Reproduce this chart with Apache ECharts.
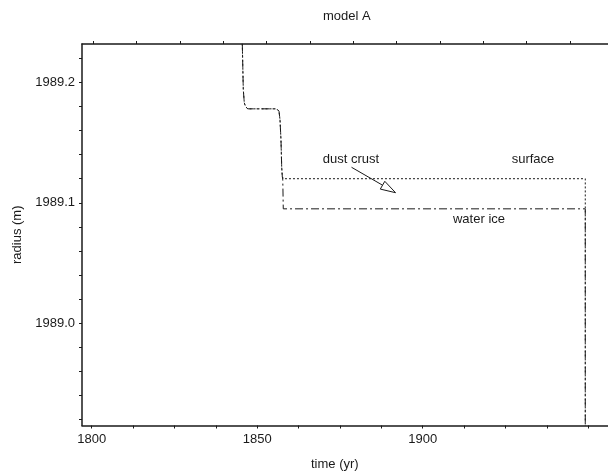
<!DOCTYPE html>
<html>
<head>
<meta charset="utf-8">
<script src="https://cdn.jsdelivr.net/npm/echarts@6/dist/echarts.min.js"></script>
<style>
  html, body { margin: 0; padding: 0; background: #fff; }
  #chart { width: 608px; height: 475px; }
</style>
</head>
<body>
<div id="chart"></div>
<script>
// Radius evolution of the two fronts (surface and water ice) over time
const timeCommon   = [1845.50, 1845.80, 1846.10, 1846.47, 1847.13, 1855.89, 1856.59, 1856.89, 1857.19, 1857.40, 1857.58];
const radiusCommon = [1989.232, 1989.194, 1989.183, 1989.180, 1989.178, 1989.178, 1989.176, 1989.169, 1989.152, 1989.130, 1989.122];

const surfaceTime   = [1857.88, 1949.12, 1949.12];
const surfaceRadius = [1989.120, 1989.120, 1988.900];

const waterIceTime   = [1857.73, 1857.88, 1949.12, 1949.12];
const waterIceRadius = [1989.119, 1989.095, 1989.095, 1988.900];

// Axis ticks and labels
const xTicksBottom = [1800, 1812.5, 1825, 1837.5, 1850, 1862.5, 1875, 1887.5, 1900, 1912.5, 1925, 1937.5, 1950, 1962.5];
const xLabels      = [1800, 1850, 1900];
const xTicksTop    = [1800.48, 1813.57, 1826.68, 1839.76, 1852.87, 1865.95, 1879.03, 1892.11, 1905.23, 1918.31, 1931.42, 1944.50, 1957.59];
const yTicks       = [1988.92, 1988.94, 1988.96, 1988.98, 1989.00, 1989.02, 1989.04, 1989.06, 1989.08, 1989.10,
                      1989.12, 1989.14, 1989.16, 1989.18, 1989.20, 1989.22];
const yLabels      = [1989.0, 1989.1, 1989.2];

// Annotation texts and the arrow that points into the crust layer
const noteNames  = ['dust crust', 'surface', 'water ice'];
const noteTime   = [1878.34, 1933.33, 1917.01];
const noteRadius = [1989.136, 1989.136, 1989.086];
const arrowFrom  = [1878.5, 1989.1295];
const arrowTo    = [1891.8, 1989.1084];

const X_MIN = 1797.07, X_MAX = 1963.54;
const Y_MIN = 1988.9152, Y_MAX = 1989.2318;

const FONT = 'Liberation Sans, Arial, Helvetica, sans-serif';
const INK = '#1a1a1a';
const FS = 13;

function pairs(xs, ys) { return xs.map((x, i) => [x, ys[i]]); }

const surfaceData  = pairs(timeCommon.concat(surfaceTime), radiusCommon.concat(surfaceRadius));
const waterIceData = pairs(timeCommon.concat(waterIceTime), radiusCommon.concat(waterIceRadius));
const noteData = noteNames.map((n, i) => ({ name: n, value: [noteTime[i], noteRadius[i]] }));

const chart = echarts.init(document.getElementById('chart'), null, { renderer: 'canvas' });

chart.setOption({
  animation: false,
  backgroundColor: '#fff',
  textStyle: { fontFamily: FONT },
  title: [
    { text: 'model A', left: 323, top: 10, padding: 0,
      textStyle: { fontSize: FS, fontWeight: 'normal', color: INK, fontFamily: FONT } },
    { text: 'time (yr)', left: 311, top: 458, padding: 0,
      textStyle: { fontSize: FS, fontWeight: 'normal', color: INK, fontFamily: FONT } }
  ],
  grid: { left: 82, top: 44, right: -25, bottom: 49.5, containLabel: false, outerBoundsMode: 'none' },
  xAxis: [
    {
      type: 'value', position: 'bottom', min: X_MIN, max: X_MAX,
      axisLine: { show: true, lineStyle: { color: INK, width: 1.5 } },
      axisTick: { show: true, customValues: xTicksBottom, length: 3, lineStyle: { color: INK, width: 1 } },
      axisLabel: { customValues: xLabels, margin: 7, fontSize: FS, color: INK, fontFamily: FONT,
                   formatter: v => String(Math.round(v)) },
      splitLine: { show: false }
    },
    {
      type: 'value', position: 'top', min: X_MIN, max: X_MAX,
      axisLine: { show: true, lineStyle: { color: INK, width: 1.5 } },
      axisTick: { show: true, customValues: xTicksTop, length: 3, lineStyle: { color: INK, width: 1 } },
      axisLabel: { show: false },
      splitLine: { show: false }
    }
  ],
  yAxis: {
    type: 'value', min: Y_MIN, max: Y_MAX,
    name: 'radius (m)', nameLocation: 'middle', nameGap: 58,
    nameTextStyle: { fontSize: FS, color: INK, fontFamily: FONT },
    axisLine: { show: true, lineStyle: { color: INK, width: 1.5 } },
    axisTick: { show: true, customValues: yTicks, length: 3, lineStyle: { color: INK, width: 1 } },
    axisLabel: { customValues: yLabels, margin: 7, fontSize: FS, color: INK, fontFamily: FONT,
                 formatter: v => v.toFixed(1) },
    splitLine: { show: false }
  },
  series: [
    {
      name: 'surface', type: 'line', data: surfaceData, showSymbol: false, symbol: 'none',
      silent: true, clip: true,
      lineStyle: { color: INK, width: 1, type: [2, 2] }
    },
    {
      name: 'water ice', type: 'line', data: waterIceData, showSymbol: false, symbol: 'none',
      silent: true, clip: true,
      lineStyle: { color: INK, width: 1, type: [8, 3, 2, 3] }
    },
    {
      name: 'notes', type: 'scatter', data: noteData, symbolSize: 0, silent: true,
      itemStyle: { color: INK, opacity: 1 },
      label: { show: true, position: 'inside', formatter: '{b}', fontSize: FS, color: INK, fontFamily: FONT }
    },
    {
      name: 'arrow', type: 'custom', silent: true, clip: false,
      data: [[arrowFrom[0], arrowFrom[1], arrowTo[0], arrowTo[1]]],
      renderItem: function (params, api) {
        const p0 = api.coord([api.value(0), api.value(1)]);
        const p1 = api.coord([api.value(2), api.value(3)]);
        const dx = p1[0] - p0[0], dy = p1[1] - p0[1];
        const len = Math.sqrt(dx * dx + dy * dy);
        const ux = dx / len, uy = dy / len;
        const headLen = 15, headHalf = 4.5;
        const bx = p1[0] - ux * headLen, by = p1[1] - uy * headLen;
        const nx = -uy, ny = ux;
        return {
          type: 'group',
          children: [
            { type: 'line', shape: { x1: p0[0], y1: p0[1], x2: bx, y2: by },
              style: { stroke: INK, lineWidth: 1 } },
            { type: 'polygon',
              shape: { points: [[p1[0], p1[1]], [bx + nx * headHalf, by + ny * headHalf], [bx - nx * headHalf, by - ny * headHalf]] },
              style: { fill: '#fff', stroke: INK, lineWidth: 1 } }
          ]
        };
      }
    }
  ]
});
</script>
</body>
</html>
